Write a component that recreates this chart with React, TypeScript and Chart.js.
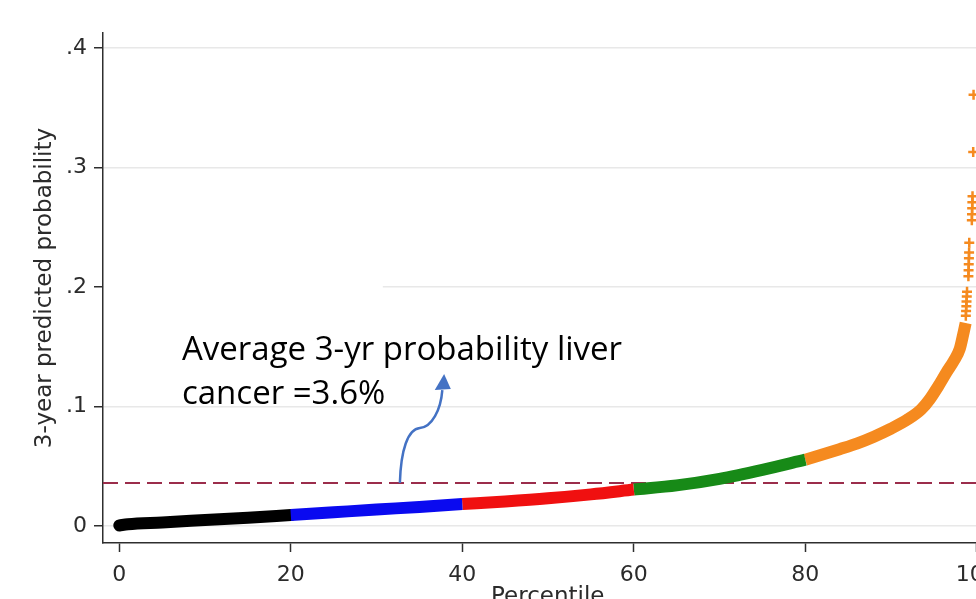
import React, { useEffect, useRef } from "react";
import { Chart, registerables } from "chart.js";

Chart.register(...registerables);

// ---- data ----
const blackX = [0, 1, 5, 10, 15, 20];
const blackY = [0.0005, 0.0015, 0.003, 0.005, 0.007, 0.0092];
const blueX = [20, 25, 30, 35, 40];
const blueY = [0.0092, 0.0115, 0.0138, 0.016, 0.0184];
const redX = [40, 45, 50, 55, 60];
const redY = [0.0184, 0.0206, 0.0232, 0.0265, 0.0305];
const greenX = [60, 65, 70, 75, 80];
const greenY = [0.0305, 0.034, 0.0395, 0.047, 0.0555];
const orangeX = [80, 82, 84, 86, 88, 90, 92, 93.5, 94.5, 95.5, 96.5, 97.3, 98, 98.4, 98.7];
const orangeY = [0.0555, 0.0598, 0.0643, 0.069, 0.0748, 0.0815, 0.0895, 0.0975, 0.106, 0.117, 0.129, 0.138, 0.148, 0.16, 0.17];
const tailX = [98.72, 98.75, 98.78, 98.8, 98.83, 98.86, 99.02, 99.04, 99.06, 99.08, 99.1, 99.12, 99.42, 99.44, 99.46, 99.48, 99.5, 99.58, 99.62];
const tailY = [0.176, 0.18, 0.184, 0.188, 0.192, 0.196, 0.209, 0.214, 0.219, 0.224, 0.229, 0.237, 0.256, 0.261, 0.266, 0.271, 0.276, 0.313, 0.361];
const averageProbability = 0.036;

const xTicks = [0, 20, 40, 60, 80, 100];
const yTicks = [0, 0.1, 0.2, 0.3, 0.4];
const yTickLabels = ["0", ".1", ".2", ".3", ".4"];

const xTitle = "Percentile";
const yTitle = "3-year predicted probability";
const noteLines = ["Average 3-yr probability liver", "cancer =3.6%"];

const X_MIN = -1.9;
const X_MAX = 101.83;
const Y_MIN = -0.0142;
const Y_MAX = 0.4126;

const pts = (xs: number[], ys: number[]) => xs.map((x, i) => ({ x, y: ys[i] }));

const AXIS = "#2e2e2e";
const TICKFONT = { family: "DejaVu Sans", size: 22 };
const TITLEFONT = { family: "DejaVu Sans", size: 23 };

const annotationPlugin = {
  id: "annotation",
  beforeDatasetsDraw(chart: any) {
    const { ctx, chartArea, scales } = chart;
    const x = scales.x;
    const y = scales.y;
    // white text box partially covering the .2 gridline
    ctx.save();
    ctx.fillStyle = "#ffffff";
    const right = x.getPixelForValue(30.73);
    const gy = y.getPixelForValue(0.2);
    ctx.fillRect(chartArea.left + 1, gy - 4, right - chartArea.left - 1, 8);
    ctx.restore();
  },
  afterDatasetsDraw(chart: any) {
    const { ctx, scales } = chart;
    const x = scales.x;
    const y = scales.y;
    const P = (a: number, b: number) => [x.getPixelForValue(a), y.getPixelForValue(b)];
    ctx.save();
    // note text
    ctx.fillStyle = "#000";
    ctx.font = '33px "Open Sans"';
    ctx.textAlign = "left";
    ctx.textBaseline = "alphabetic";
    const [tx, ty1] = P(7.31, 0.1389);
    const [, ty2] = P(7.31, 0.1021);
    ctx.fillText(noteLines[0], tx, ty1);
    ctx.fillText(noteLines[1], tx, ty2);
    // curved arrow
    const s = P(32.72, averageProbability);
    const c1 = P(32.83, 0.0636);
    const c2 = P(33.65, 0.0812);
    const m = P(35.05, 0.082);
    const c3 = P(36.45, 0.0828);
    const c4 = P(37.49, 0.0971);
    const e = P(37.67, 0.1138);
    ctx.strokeStyle = "#4472c4";
    ctx.lineWidth = 2.5;
    ctx.beginPath();
    ctx.moveTo(s[0], s[1]);
    ctx.bezierCurveTo(c1[0], c1[1], c2[0], c2[1], m[0], m[1]);
    ctx.bezierCurveTo(c3[0], c3[1], c4[0], c4[1], e[0], e[1]);
    ctx.stroke();
    const tip = P(37.88, 0.1272);
    const bl = P(36.79, 0.1138);
    const br = P(38.66, 0.1146);
    ctx.fillStyle = "#4472c4";
    ctx.beginPath();
    ctx.moveTo(tip[0], tip[1]);
    ctx.lineTo(bl[0], bl[1]);
    ctx.lineTo(br[0], br[1]);
    ctx.closePath();
    ctx.fill();
    ctx.restore();
  },
};

const segment = (data: any[], color: string, cap: string, order: number) => ({
  data,
  showLine: true,
  borderColor: color,
  backgroundColor: color,
  borderWidth: 12,
  pointRadius: 0,
  cubicInterpolationMode: "monotone",
  borderCapStyle: cap,
  order,
});

export default function App() {
  const ref = useRef<HTMLCanvasElement | null>(null);

  useEffect(() => {
    if (!ref.current) return;
    const chart = new Chart(ref.current, {
      type: "scatter",
      data: {
        datasets: [
          {
            data: [
              { x: X_MIN, y: averageProbability },
              { x: X_MAX, y: averageProbability },
            ],
            showLine: true,
            borderColor: "#9b2d4b",
            borderWidth: 2.2,
            borderDash: [15, 7],
            pointRadius: 0,
            order: 10,
          } as any,
          segment(pts(blackX, blackY), "#000000", "round", 2),
          segment(pts(blueX, blueY), "#0a0af0", "butt", 1),
          segment(pts(redX, redY), "#f01010", "butt", 1),
          segment(pts(greenX, greenY), "#178a17", "butt", 1),
          segment(pts(orangeX, orangeY), "#f58a1f", "butt", 1),
          {
            data: pts(tailX, tailY),
            showLine: false,
            pointStyle: "cross",
            pointRadius: 5,
            borderWidth: 2.5,
            borderColor: "#f58a1f",
            backgroundColor: "#f58a1f",
            order: 0,
          } as any,
        ],
      },
      options: {
        animation: false,
        responsive: false,
        maintainAspectRatio: false,
        devicePixelRatio: 1,
        layout: { padding: { left: 0, top: 33, right: 7, bottom: 0 } },
        plugins: { legend: { display: false }, tooltip: { enabled: false } },
        scales: {
          x: {
            type: "linear",
            min: X_MIN,
            max: X_MAX,
            afterBuildTicks: (s: any) => {
              s.ticks = xTicks.map((v) => ({ value: v }));
            },
            afterFit: (s: any) => {
              s.height = 77;
              s.paddingLeft = 0;
              s.paddingRight = 0;
            },
            grid: {
              drawOnChartArea: false,
              drawTicks: true,
              tickLength: 9,
              tickColor: AXIS,
              tickWidth: 1.5,
            },
            border: { display: true, color: AXIS, width: 1.5 },
            ticks: {
              font: TICKFONT,
              color: "#2b2b2b",
              padding: 10,
              maxRotation: 0,
              autoSkip: false,
              callback: (v: any) => String(v),
            },
            title: {
              display: true,
              text: xTitle,
              font: TITLEFONT,
              color: "#2b2b2b",
              padding: { top: 0, bottom: 9 },
            },
          },
          y: {
            type: "linear",
            min: Y_MIN,
            max: Y_MAX,
            afterBuildTicks: (s: any) => {
              s.ticks = yTicks.map((v) => ({ value: v }));
            },
            afterFit: (s: any) => {
              s.width = 103;
              s.paddingTop = 0;
              s.paddingBottom = 0;
            },
            grid: {
              color: "#e8e8e8",
              lineWidth: 1.5,
              drawTicks: true,
              tickLength: 9,
              tickColor: AXIS,
              tickWidth: 1.5,
            },
            border: { display: true, color: AXIS, width: 1.5 },
            ticks: {
              font: TICKFONT,
              color: "#2b2b2b",
              padding: 7,
              autoSkip: false,
              callback: (v: any) => {
                const i = yTicks.indexOf(v);
                return i >= 0 ? yTickLabels[i] : "";
              },
            },
            title: {
              display: true,
              text: yTitle,
              font: TITLEFONT,
              color: "#2b2b2b",
              padding: { top: 31, bottom: 0 },
            },
          },
        },
      } as any,
      plugins: [annotationPlugin],
    });
    return () => chart.destroy();
  }, []);

  return (
    <div
      style={{
        position: "fixed",
        left: 0,
        top: 0,
        width: 976,
        height: 599,
        overflow: "hidden",
        background: "#ffffff",
      }}
    >
      <canvas
        ref={ref}
        width={1000}
        height={620}
        style={{ display: "block", width: 1000, height: 620 }}
      />
    </div>
  );
}
